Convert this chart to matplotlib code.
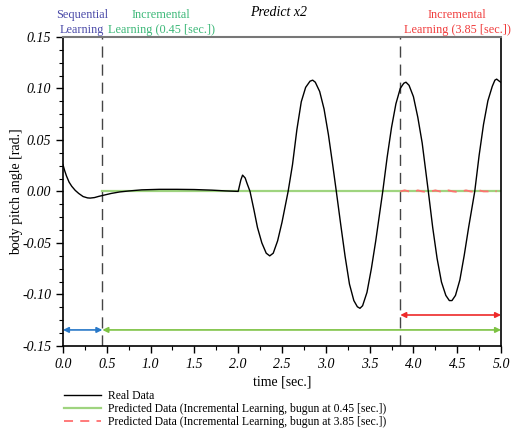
import numpy as np
import matplotlib.pyplot as plt
from matplotlib.ticker import MultipleLocator, FormatStrFormatter
from matplotlib.lines import Line2D

plt.rcParams['font.family'] = ['Liberation Serif', 'DejaVu Serif']

# real data (time [s], pitch [rad])
t_real = [0.00, 0.02, 0.04, 0.07, 0.10, 0.14, 0.18, 0.23, 0.28, 0.31, 0.36, 0.41,
          0.46, 0.55, 0.65, 0.75, 0.90, 1.10, 1.30, 1.50, 1.70, 1.85, 2.00,
          2.03, 2.05, 2.08, 2.10, 2.135, 2.18, 2.22, 2.27, 2.32, 2.36, 2.40,
          2.45, 2.50, 2.57, 2.62, 2.67, 2.72, 2.77, 2.82, 2.85, 2.88, 2.93,
          2.98, 3.03, 3.08, 3.12, 3.17, 3.22, 3.27, 3.32, 3.36, 3.39, 3.42,
          3.47, 3.52, 3.57, 3.62, 3.65, 3.70, 3.75, 3.80, 3.85, 3.89, 3.915,
          3.95, 4.00, 4.05, 4.10, 4.17, 4.22, 4.27, 4.32, 4.37, 4.41, 4.44,
          4.48, 4.53, 4.58, 4.63, 4.70, 4.75, 4.80, 4.85, 4.90, 4.93, 4.95,
          4.98, 5.00]
x_real = [0.026, 0.020, 0.015, 0.009, 0.005, 0.001, -0.002, -0.005, -0.0063, -0.0065,
          -0.006, -0.0048, -0.0038, -0.002, -0.0005, 0.0004, 0.0015, 0.002, 0.002,
          0.0018, 0.0012, 0.0005, 0.0,
          0.011, 0.0158, 0.013, 0.008, 0.0, -0.018, -0.035, -0.050, -0.060, -0.0626,
          -0.060, -0.048, -0.030, 0.0, 0.026, 0.060, 0.087, 0.101, 0.107, 0.108,
          0.106, 0.097, 0.080, 0.055, 0.025, 0.0, -0.032, -0.063, -0.090, -0.106,
          -0.112, -0.1135, -0.111, -0.098, -0.075, -0.048, -0.018, 0.0, 0.033,
          0.062, 0.085, 0.100, 0.105, 0.106, 0.103, 0.092, 0.072, 0.047, 0.0,
          -0.035, -0.065, -0.088, -0.101, -0.106, -0.106, -0.101, -0.086, -0.062,
          -0.035, 0.0, 0.035, 0.065, 0.088, 0.102, 0.108, 0.109, 0.107, 0.1058]

# prediction started at 0.45 s
t_pred1 = [0.45, 5.00]
x_pred1 = [0.0, 0.0]

# prediction started at 3.85 s (small wiggles around zero)
t_pred2 = [3.85, 3.90, 3.95, 4.00, 4.05, 4.10, 4.15, 4.20, 4.25, 4.30, 4.35,
           4.40, 4.45, 4.50, 4.55, 4.60, 4.65, 4.70, 4.75, 4.80, 4.85, 4.90, 4.95]
x_pred2 = [0.0, 0.001, 0.0, -0.0005, 0.001, 0.0, -0.0005, 0.0, 0.001, 0.0,
           -0.0005, 0.001, 0.0, -0.0005, 0.0, 0.001, 0.0, -0.0005, 0.001, 0.0,
           0.0, 0.001, 0.0]

starts = [0.45, 3.85]

fig = plt.figure(figsize=(5.16, 4.34), dpi=100)
ax = fig.add_axes([0.122, 0.203, 0.849, 0.712])

ax.plot(t_pred1, x_pred1, color='#9fd47f', lw=1.6, zorder=2)
ax.plot(t_pred2, x_pred2, color='#ff7070', lw=1.3, dashes=(5, 4), zorder=3)
ax.plot(t_real, x_real, color='black', lw=1.0, zorder=4)

for s in starts:
    ax.axvline(s, color='#444444', lw=1.0, dashes=(8, 5), zorder=1)

# learning period arrows
arr = dict(arrowstyle='<|-|>', mutation_scale=8, lw=1.2, shrinkA=0, shrinkB=0)
ax.annotate('', xy=(0.0, -0.1345), xytext=(0.45, -0.1345),
            arrowprops=dict(color='#2878c8', **arr))
ax.annotate('', xy=(0.45, -0.1345), xytext=(5.0, -0.1345),
            arrowprops=dict(color='#7cc242', **arr))
ax.annotate('', xy=(3.85, -0.12), xytext=(5.0, -0.12),
            arrowprops=dict(color='#ee2a2a', **arr))

ax.text(0.215, 0.151, 'Sequential\nLearning', color='#4a4aa8', fontsize=8.8,
        ha='center', va='bottom', linespacing=1.3)
ax.text(1.12, 0.151, 'Incremental\nLearning (0.45 [sec.])', color='#3cb878',
        fontsize=8.8, ha='center', va='bottom', linespacing=1.3)
ax.text(4.50, 0.151, 'Incremental\nLearning (3.85 [sec.])', color='#f03c3c',
        fontsize=8.8, ha='center', va='bottom', linespacing=1.3)
fig.text(0.54, 0.972, 'Predict x2', fontsize=10, style='italic',
         ha='center', va='center')

ax.set_xlim(0, 5)
ax.set_ylim(-0.15, 0.15)
ax.xaxis.set_major_locator(MultipleLocator(0.5))
ax.xaxis.set_minor_locator(MultipleLocator(0.25))
ax.yaxis.set_major_locator(MultipleLocator(0.05))
ax.yaxis.set_minor_locator(MultipleLocator(0.0125))
ax.xaxis.set_major_formatter(FormatStrFormatter('%.1f'))
ax.yaxis.set_major_formatter(FormatStrFormatter('%.2f'))
ax.tick_params(which='major', direction='out', length=5, width=1, labelsize=10)
ax.tick_params(which='minor', direction='out', length=3, width=0.8)
for lab in ax.get_xticklabels() + ax.get_yticklabels():
    lab.set_style('italic')

ax.spines['top'].set_color('#777777')
ax.spines['top'].set_linewidth(1.5)
for side in ['left', 'bottom', 'right']:
    ax.spines[side].set_linewidth(1.2)

ax.set_xlabel('time [sec.]', fontsize=10)
ax.set_ylabel('body pitch angle [rad.]', fontsize=10)
ax.xaxis.set_label_coords(0.5, -0.095)
ax.yaxis.set_label_coords(-0.092, 0.5)

handles = [Line2D([], [], color='black', lw=1.0),
           Line2D([], [], color='#9fd47f', lw=1.6),
           Line2D([], [], color='#ff7070', lw=1.3, dashes=(5, 4))]
labels = ['Real Data',
          'Predicted Data (Incremental Learning, bugun at 0.45 [sec.])',
          'Predicted Data (Incremental Learning, bugun at 3.85 [sec.])']
fig.legend(handles, labels, loc='upper left', bbox_to_anchor=(0.108, 0.12),
           frameon=False, fontsize=8.4, handlelength=3.2, labelspacing=0.1,
           borderpad=0.2, handletextpad=0.6)

fig.savefig('out.png', dpi=100)
